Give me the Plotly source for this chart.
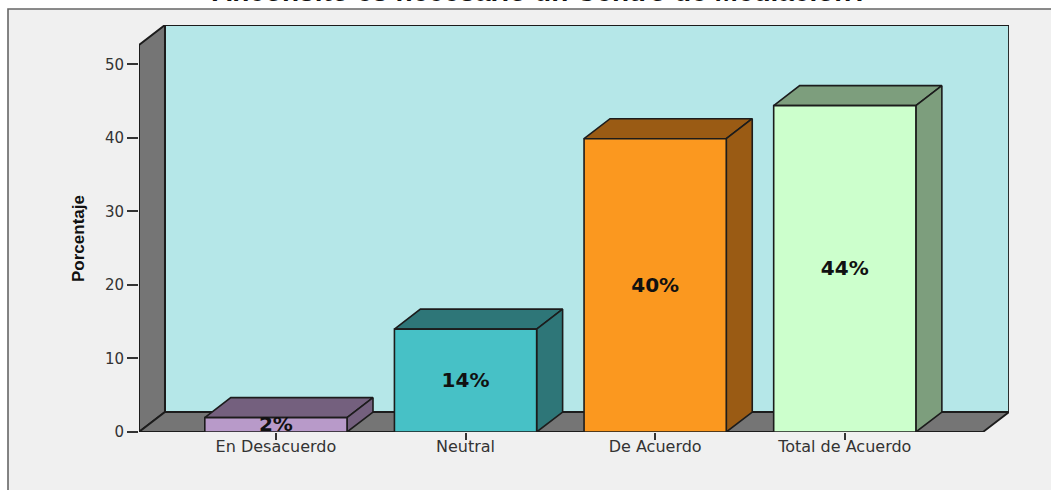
import plotly.graph_objects as go

categories = ["En Desacuerdo", "Neutral", "De Acuerdo", "Total de Acuerdo"]
values = [1.95, 14.0, 39.9, 44.4]
labels = ["2%", "14%", "40%", "44%"]
front_colors = ["#b89ac9", "#47c1c6", "#fb981f", "#ccffcc"]
shade_colors = ["#74607e", "#2e7678", "#9a5b14", "#7d9e7d"]
y_ticks = [0, 10, 20, 30, 40, 50]
title_text = "Ancoñsito es necesario un Centro de Mediación?"
y_title = "Porcentaje"

W, H = 1051, 490
L, R, T, B = 139, 1009, 25, 432
BAR_W = 0.75
DX = 0.137
DY = 2.72
X_MIN, X_FRONT_MAX = -0.722, 3.729
X_MAX = X_FRONT_MAX + DX
Y_MAX = 52.65 + DY
LINE = "#1c1c1c"
FONT = "DejaVu Sans"

fig = go.Figure()


def poly(xs, ys, fill, width=1.6):
    fig.add_trace(go.Scatter(
        x=xs + xs[:1], y=ys + ys[:1], mode="lines", fill="toself",
        fillcolor=fill, line=dict(color=LINE, width=width),
        hoverinfo="skip", showlegend=False, cliponaxis=False,
    ))


# back wall, left wall, floor
poly([X_MIN + DX, X_MAX, X_MAX, X_MIN + DX], [DY, DY, Y_MAX, Y_MAX], "#b5e7e8", 1.8)
poly([X_MIN, X_MIN + DX, X_MIN + DX, X_MIN], [0, DY, Y_MAX, Y_MAX - DY], "#757575", 2.0)
poly([X_MIN, X_FRONT_MAX, X_MAX, X_MIN + DX], [0, 0, DY, DY], "#757575", 1.8)

# bars
for i, v in enumerate(values):
    x0, x1 = i - BAR_W / 2, i + BAR_W / 2
    poly([x0, x1, x1 + DX, x0 + DX], [v, v, v + DY, v + DY], shade_colors[i])
    poly([x1, x1 + DX, x1 + DX, x1], [0, DY, v + DY, v], shade_colors[i])
    poly([x0, x1, x1, x0], [0, 0, v, v], front_colors[i])

fig.add_trace(go.Scatter(
    x=list(range(len(categories))), y=[v / 2 - 0.2 for v in values], text=labels,
    mode="text", textposition="middle center",
    textfont=dict(family=FONT, size=20, color="#111111", weight="bold"),
    hoverinfo="skip", showlegend=False, cliponaxis=False,
))

fig.update_layout(
    width=W, height=H, autosize=False,
    margin=dict(l=L, r=W - R, t=T, b=H - B, pad=0),
    paper_bgcolor="white", plot_bgcolor="#f0f0f0",
    font=dict(family=FONT, color="#333333"),
    showlegend=False,
    shapes=[dict(
        type="rect", xref="paper", yref="paper", layer="below",
        x0=(8 - L) / (R - L), x1=(W + 10 - L) / (R - L),
        y0=(B - H - 10) / (B - T), y1=(B - 9) / (B - T),
        fillcolor="#f0f0f0", line=dict(color="#666666", width=1.6),
    )],
    annotations=[
        dict(text=title_text, xref="paper", yref="paper",
             x=(540 - L) / (R - L), y=(B + 8) / (B - T), xanchor="center", yanchor="middle",
             showarrow=False, font=dict(family="Liberation Sans", size=28, color="#111111", weight="bold")),
        dict(text=y_title, xref="paper", yref="paper",
             x=(78 - L) / (R - L), y=(B - 239) / (B - T), xanchor="center", yanchor="middle",
             textangle=-90, showarrow=False,
             font=dict(family="Liberation Sans", size=17, color="#111111", weight="bold")),
    ],
)
fig.update_xaxes(
    range=[X_MIN, X_MAX], tickmode="array", tickvals=list(range(len(categories))), ticktext=categories,
    showgrid=False, zeroline=False, showline=False, ticks="outside", ticklen=7, tickwidth=1.5,
    tickcolor="#333333", tickfont=dict(family=FONT, size=16, color="#333333"), ticklabelstandoff=-7,
)
fig.update_yaxes(
    range=[0, Y_MAX], tickmode="array", tickvals=y_ticks,
    showgrid=False, zeroline=False, showline=False, ticks="outside", ticklen=11, tickwidth=1.5,
    tickcolor="#333333", tickfont=dict(family=FONT, size=15, color="#333333"),
)

fig.write_html(
    "out.html",
    config={"displayModeBar": False},
    post_script="document.body.style.margin='0';document.body.style.overflow='hidden';window.dispatchEvent(new Event('resize'));",
)
